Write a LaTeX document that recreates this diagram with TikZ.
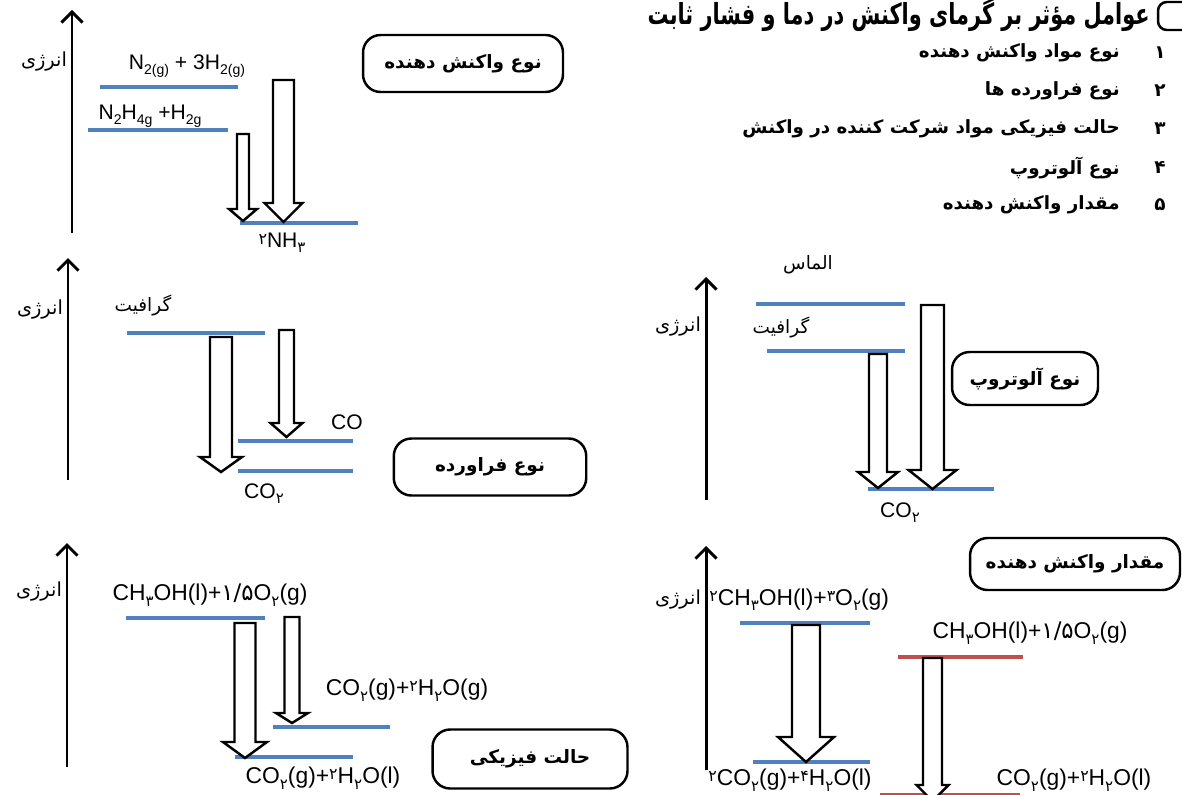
\documentclass[tikz,border=0pt]{standalone}
\usepackage{fontspec}
\setmainfont{Liberation Sans}
\newfontfamily\fa[Script=Arabic]{DejaVu Sans}
\TeXXeTstate=1
\usetikzlibrary{arrows.meta}

\definecolor{lvblue}{HTML}{4F81BD}
\definecolor{lvred}{HTML}{C0504D}

% small digits for formulas
\newcommand{\lsub}[1]{\raisebox{-0.5ex}{\fontsize{8}{9}\selectfont #1}}
\newcommand{\psub}[1]{\raisebox{-0.45ex}{\fontsize{8.5}{9}\selectfont\fa #1}}
\newcommand{\psup}[1]{\raisebox{0.3ex}{\fontsize{9}{10}\selectfont\fa #1}}
\newcommand{\pdig}[1]{{\fa #1}}

% hollow block arrow: x, top, tip, shaft half width, head half width, head length
\newcommand{\holarrow}[6]{%
\filldraw[hollow] (#1-#4,#2) -- (#1+#4,#2) -- (#1+#4,#3-#6) -- (#1+#5,#3-#6)
  -- (#1,#3) -- (#1-#5,#3-#6) -- (#1-#4,#3-#6) -- cycle;}

\begin{document}
\begin{tikzpicture}[x=0.02cm,y=-0.02cm,
  level/.style={draw=lvblue,line width=2.7pt},
  redlevel/.style={draw=lvred,line width=2.7pt},
  axis/.style={line width=1.7pt,-{Straight Barb[length=6pt,width=12pt,line width=1.7pt]}},
  hollow/.style={draw=black,fill=white,line width=1.4pt,line join=miter},
  factor/.style={draw,line width=1.4pt,rounded corners=10pt,inner sep=0pt,
    font=\fa\bfseries\fontsize{10.5}{12}\selectfont},
  energy/.style={anchor=east,inner sep=1pt,font=\fa\fontsize{11}{13}\selectfont},
  species/.style={inner sep=0pt,font=\fa\fontsize{10.5}{12}\selectfont},
  formula/.style={inner sep=0pt,font=\fontsize{13}{15}\selectfont},
  listitem/.style={anchor=east,inner sep=0pt,font=\fa\bfseries\fontsize{10.4}{12}\selectfont},
  listnum/.style={inner sep=0pt,font=\fa\bfseries\fontsize{10.5}{12}\selectfont}]
\useasboundingbox (0,0) rectangle (1182,794);

% title and list
\node[anchor=east,inner sep=0pt,font=\fa\bfseries\fontsize{16.5}{20}\selectfont] (title) at (1150,15)
  {\scalebox{0.72}[1]{\beginR عوامل مؤثر بر گرمای واکنش در دما و فشار ثابت\endR}};
\draw[line width=1.4pt,rounded corners=5pt] (1200,2) -- (1158,2) -- (1158,30) -- (1200,30);
\node[listnum] (n1) at (1160,53) {۱};
\node[listitem] (f1) at (1120,53) {\beginR نوع مواد واکنش دهنده\endR};
\node[listnum] (n2) at (1160,91) {۲};
\node[listitem] (f2) at (1120,91) {\beginR نوع فراورده ها\endR};
\node[listnum] (n3) at (1160,129) {۳};
\node[listitem] (f3) at (1120,129) {\beginR حالت فیزیکی مواد شرکت کننده در واکنش\endR};
\node[listnum] (n4) at (1160,168) {۴};
\node[listitem] (f4) at (1120,168) {\beginR نوع آلوتروپ\endR};
\node[listnum] (n5) at (1160,205) {۵};
\node[listitem] (f5) at (1120,205) {\beginR مقدار واکنش دهنده\endR};

% reactants
\draw[axis] (72,233) -- (72,10);
\node[energy] (e1) at (69,62) {\beginR انرژی\endR};
\draw[level] (100,87) -- (238,87);
\draw[level] (88,130) -- (228,130);
\draw[level] (240,223) -- (358,223);
\node[formula,font=\fontsize{12}{14}\selectfont] (r1) at (187,66) {N\lsub{2(g)} + 3H\lsub{2(g)}};
\node[formula,font=\fontsize{12}{14}\selectfont] (r2) at (150,116) {N\lsub{2}H\lsub{4g} +H\lsub{2g}};
\node[formula,font=\fontsize{12}{14}\selectfont] (p1) at (282,243) {\psup{۲}NH\psub{۳}};
\holarrow{243}{134}{221}{6}{14}{12}
\holarrow{283.5}{80}{222}{10.5}{19}{19}
\node[factor,minimum width=4cm,minimum height=1.14cm] (b1) at (463,63.5) {\beginR نوع واکنش دهنده\endR};

% products
\draw[axis] (68,480) -- (68,258);
\node[energy] (e2) at (65,310) {\beginR انرژی\endR};
\node[species] (g2) at (143,305) {\beginR گرافیت\endR};
\draw[level] (127,333) -- (265,333);
\draw[level] (238,441) -- (353,441);
\draw[level] (238,471) -- (353,471);
\node[formula,font=\fontsize{12}{14}\selectfont] (co) at (347,422) {CO};
\node[formula,font=\fontsize{12}{14}\selectfont] (co2) at (264,494) {CO\psub{۲}};
\holarrow{221}{337}{472}{11}{21}{15}
\holarrow{286.5}{330}{437}{7.5}{16}{14}
\node[factor,minimum width=3.85cm,minimum height=1.14cm] (b2) at (490,467) {\beginR نوع فراورده\endR};

% allotrope
\draw[axis] (706,500) -- (706,277);
\node[energy] (e3) at (703,327) {\beginR انرژی\endR};
\node[species] (d3) at (808,265) {\beginR الماس\endR};
\node[species] (g3) at (781,327) {\beginR گرافیت\endR};
\draw[level] (756,304) -- (905,304);
\draw[level] (767,351) -- (905,351);
\draw[level] (868,489) -- (994,489);
\node[formula,font=\fontsize{12}{14}\selectfont] (co2b) at (900,513) {CO\psub{۲}};
\holarrow{878}{354}{488}{9}{20}{16}
\holarrow{932.5}{305}{489}{11.5}{24}{19}
\node[factor,minimum width=2.92cm,minimum height=1.06cm] (b3) at (1025,378.5) {\beginR نوع آلوتروپ\endR};

% physical state
\draw[axis] (67,767) -- (67,543);
\node[energy] (e4) at (64,592) {\beginR انرژی\endR};
\node[formula] (m4) at (210,595) {CH\psub{۳}OH(l)+\pdig{۱/۵}O\psub{۲}(g)};
\draw[level] (126,618) -- (265,618);
\draw[level] (273,727) -- (390,727);
\draw[level] (235,757) -- (353,757);
\node[formula] (gas) at (407,690) {CO\psub{۲}(g)+\psup{۲}H\psub{۲}O(g)};
\node[formula] (liq) at (323,778) {CO\psub{۲}(g)+\psup{۲}H\psub{۲}O(l)};
\holarrow{245}{623}{758}{10.5}{22}{16}
\holarrow{292}{617}{723}{7.5}{16}{10}
\node[factor,minimum width=3.9cm,minimum height=1.18cm] (b4) at (530,759) {\beginR حالت فیزیکی\endR};

% amount
\draw[axis] (706,770) -- (706,546);
\node[energy] (e5) at (703,600) {\beginR انرژی\endR};
\node[formula,anchor=west] (m5) at (709,600) {\psup{۲}CH\psub{۳}OH(l)+\psup{۳}O\psub{۲}(g)};
\draw[level] (740,623) -- (870,623);
\draw[level] (753,762) -- (870,762);
\node[formula] (w5) at (790,780) {\psup{۲}CO\psub{۲}(g)+\psup{۴}H\psub{۲}O(l)};
\holarrow{806}{625}{762}{14}{28}{25}
\draw[redlevel] (898,657) -- (1023,657);
\draw[redlevel] (880,795) -- (1020,795);
\node[formula] (m6) at (1030,633) {CH\psub{۳}OH(l)+\pdig{۱/۵}O\psub{۲}(g)};
\node[formula] (w6) at (1074,780) {CO\psub{۲}(g)+\psup{۲}H\psub{۲}O(l)};
\holarrow{932.5}{658}{801}{9.5}{16}{16}
\node[factor,minimum width=4.2cm,minimum height=1.04cm] (b5) at (1075,564) {\beginR مقدار واکنش دهنده\endR};

\end{tikzpicture}
\end{document}
